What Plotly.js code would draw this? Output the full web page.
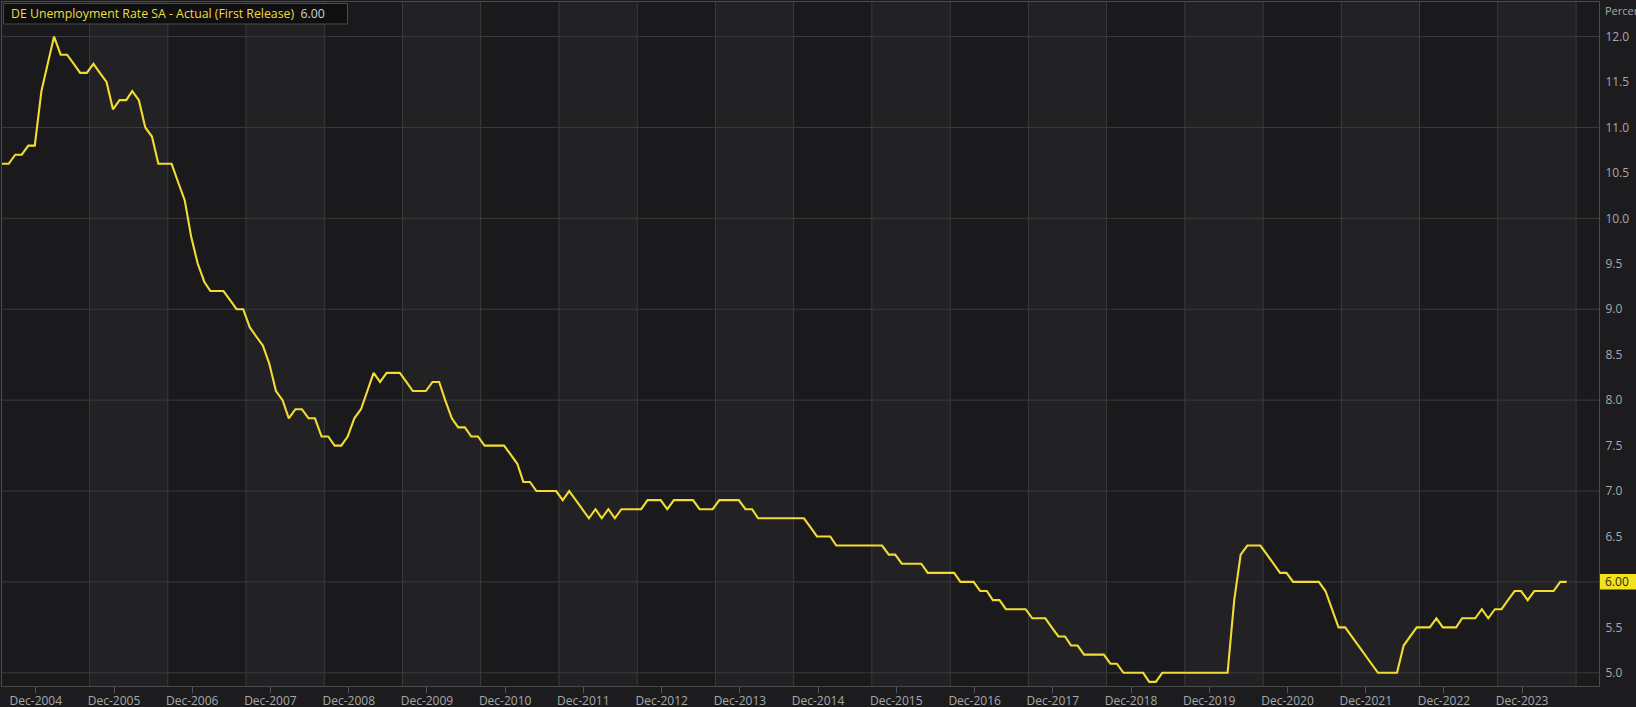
<!DOCTYPE html>
<html><head><meta charset="utf-8">
<script src="https://cdn.plot.ly/plotly-3.0.1.min.js"></script>
<style>html,body{margin:0;padding:0;background:#1c1c1e;overflow:hidden}#chart{width:1636px;height:707px}</style>
</head><body><div id="chart"></div>
<script>
// ---- data (monthly, first release), starting Jul-2004 ----
const startYear = 2004;
const startMonth = 7;
const rate = [
10.6,10.6,10.7,10.7,10.8,10.8,11.4,11.7,12.0,11.8,
11.8,11.7,11.6,11.6,11.7,11.6,11.5,11.2,11.3,11.3,
11.4,11.3,11.0,10.9,10.6,10.6,10.6,10.4,10.2,9.8,
9.5,9.3,9.2,9.2,9.2,9.1,9.0,9.0,8.8,8.7,
8.6,8.4,8.1,8.0,7.8,7.9,7.9,7.8,7.8,7.6,
7.6,7.5,7.5,7.6,7.8,7.9,8.1,8.3,8.2,8.3,
8.3,8.3,8.2,8.1,8.1,8.1,8.2,8.2,8.0,7.8,
7.7,7.7,7.6,7.6,7.5,7.5,7.5,7.5,7.4,7.3,
7.1,7.1,7.0,7.0,7.0,7.0,6.9,7.0,6.9,6.8,
6.7,6.8,6.7,6.8,6.7,6.8,6.8,6.8,6.8,6.9,
6.9,6.9,6.8,6.9,6.9,6.9,6.9,6.8,6.8,6.8,
6.9,6.9,6.9,6.9,6.8,6.8,6.7,6.7,6.7,6.7,
6.7,6.7,6.7,6.7,6.6,6.5,6.5,6.5,6.4,6.4,
6.4,6.4,6.4,6.4,6.4,6.4,6.3,6.3,6.2,6.2,
6.2,6.2,6.1,6.1,6.1,6.1,6.1,6.0,6.0,6.0,
5.9,5.9,5.8,5.8,5.7,5.7,5.7,5.7,5.6,5.6,
5.6,5.5,5.4,5.4,5.3,5.3,5.2,5.2,5.2,5.2,
5.1,5.1,5.0,5.0,5.0,5.0,4.9,4.9,5.0,5.0,
5.0,5.0,5.0,5.0,5.0,5.0,5.0,5.0,5.0,5.8,
6.3,6.4,6.4,6.4,6.3,6.2,6.1,6.1,6.0,6.0,
6.0,6.0,6.0,5.9,5.7,5.5,5.5,5.4,5.3,5.2,
5.1,5.0,5.0,5.0,5.0,5.3,5.4,5.5,5.5,5.5,
5.6,5.5,5.5,5.5,5.6,5.6,5.6,5.7,5.6,5.7,
5.7,5.8,5.9,5.9,5.8,5.9,5.9,5.9,5.9,6.0,
6.0
];
const tickYears = [2004,2005,2006,2007,2008,2009,2010,2011,2012,2013,2014,2015,2016,2017,2018,2019,2020,2021,2022,2023];
const tickLabels = tickYears.map(y => 'Dec-' + y);
const yTickVals = [5.0,5.5,6.0,6.5,7.0,7.5,8.0,8.5,9.0,9.5,10.0,10.5,11.0,11.5,12.0];
const yGridVals = [5,6,7,8,9,10,11,12];
const bandYears = [2005,2006,2007,2008,2009,2010,2011,2012,2013,2014,2015,2016,2017,2018,2019,2020,2021,2022,2023,2024];
const seriesName = 'DE Unemployment Rate SA - Actual (First Release)';
const lastValueText = '6.00';
const lastValue = 6.00;
const unitLabel = 'Percent';

// ---- build ----
const pad = n => (n < 10 ? '0' : '') + n;
const dates = rate.map((_, i) => {
  const m = startMonth - 1 + i;
  return (startYear + Math.floor(m / 12)) + '-' + pad(m % 12 + 1) + '-01';
});
const tickVals = tickYears.map(y => y + '-12-06');

// pixel helpers for the plot frame
const W = 1636, H = 707, L = 2, R = 1599, T = 2, B = 686;
const px = x => (x - L) / (R - L);
const py = y => (B - y) / (B - T);

const bandColorLight = '#222224';
const bandColorDark = '#1a1a1c';
const gridColor = '#3b3b3d';
const shapes = [];
bandYears.forEach((y, k) => {
  if (k % 2 === 0 && k < bandYears.length - 1) {
    shapes.push({type:'rect', layer:'below', xref:'x', yref:'paper',
      x0: y + '-08-14', x1: bandYears[k+1] + '-08-14', y0:0, y1:1,
      fillcolor: bandColorLight, line:{width:0}});
  }
});
bandYears.forEach(y => {
  shapes.push({type:'line', layer:'below', xref:'x', yref:'paper',
    x0: y + '-08-14', x1: y + '-08-14', y0:0, y1:1,
    line:{color:gridColor, width:1}});
});
yGridVals.forEach(v => {
  shapes.push({type:'line', layer:'below', xref:'paper', yref:'y',
    x0:0, x1:1, y0:v, y1:v, line:{color:gridColor, width:1}});
});
// legend box
shapes.push({type:'rect', xref:'paper', yref:'paper',
  x0: px(3.5), x1: px(347.5), y0: py(24), y1: py(3.5),
  fillcolor:'#0f0f10', line:{color:'#4a4a4a', width:1}});
// last value box on the axis
shapes.push({type:'rect', xref:'paper', yref:'paper',
  x0: px(1600), x1: px(1640), y0: py(589.5), y1: py(574),
  fillcolor:'#f2e21e', line:{width:0}});

const trace = {
  x: dates, y: rate, type:'scatter', mode:'lines',
  line:{color:'#f0dc32', width:2.1}, hoverinfo:'skip'
};

const layout = {
  width: W, height: H,
  margin:{l:L, r:W - R, t:T, b:H - B, pad:0},
  paper_bgcolor:'#1c1c1e',
  plot_bgcolor: bandColorDark,
  showlegend:false,
  font:{family:'"Open Sans", Roboto, sans-serif', size:12, color:'#a8a8a8'},
  xaxis:{
    type:'date', range:['2004-07-01','2024-11-29'],
    tickvals: tickVals, ticktext: tickLabels,
    ticks:'outside', ticklen:6, tickcolor:'#555557', tickwidth:1,
    ticklabelstandoff: -2,
    showgrid:false, zeroline:false,
    showline:true, linecolor:'#4a4a4c', linewidth:1, mirror:true,
    tickfont:{size:12, color:'#a8a8a8'}
  },
  yaxis:{
    side:'right', range:[4.855, 12.38],
    tickvals: yTickVals,
    ticktext: yTickVals.map(v => (v === lastValue ? '' : v.toFixed(1))),
    ticks:'', showgrid:false, zeroline:false,
    showline:true, linecolor:'#4a4a4c', linewidth:1, mirror:true,
    ticklabelstandoff: 3,
    tickfont:{size:12, color:'#a8a8a8'}
  },
  shapes: shapes,
  annotations:[
    {xref:'paper', yref:'paper', x: px(9), y: py(13.8), xanchor:'left', yanchor:'middle',
     showarrow:false, align:'left',
     text:'<span style="color:#f0dc3c">' + seriesName + '</span>&nbsp; <span style="color:#cfcfcf">' + lastValueText + '</span>',
     font:{size:12.3}},
    {xref:'paper', yref:'y', x: px(1603), y: lastValue, xanchor:'left', yanchor:'middle',
     showarrow:false, text: lastValueText, font:{size:12, color:'#2a2a10'}},
    {xref:'paper', yref:'paper', x: px(1603), y: py(10), xanchor:'left', yanchor:'middle',
     showarrow:false, text: unitLabel, font:{size:11, color:'#a8a8a8'}}
  ]
};

Plotly.newPlot('chart', [trace], layout, {staticPlot:true, displayModeBar:false});
</script>
</body></html>
